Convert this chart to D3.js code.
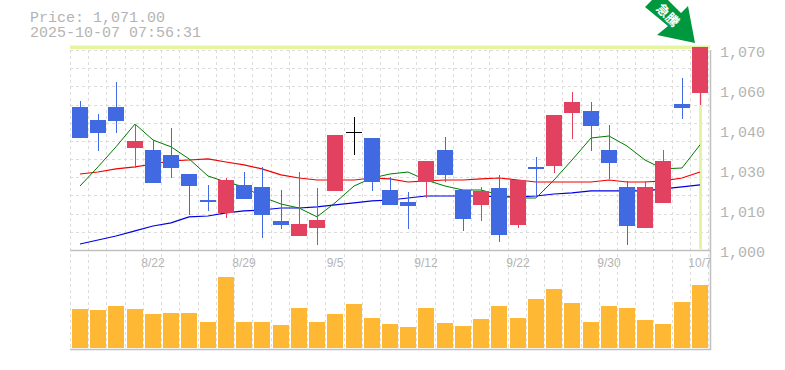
<!DOCTYPE html>
<html>
<head>
<meta charset="utf-8">
<script src="https://cdn.jsdelivr.net/npm/d3@7"></script>
<style>
   html, body { margin: 0; padding: 0; background: #fff; }
   svg { display: block; }
</style>
</head>
<body>
<div id="chart"></div>
<script>
// CHART VALUES
var dates = ['8/18','8/19','8/20','8/21','8/22','8/25','8/26','8/27','8/28','8/29','9/1','9/2','9/3','9/4','9/5','9/8','9/9','9/10','9/11','9/12','9/16','9/17','9/18','9/19','9/22','9/24','9/25','9/26','9/29','9/30','10/1','10/2','10/3','10/6','10/7'];
var open_ = [1050.1,1045.5,1050.1,1035.7,1035.0,1033.3,1026.6,1017.5,1013.0,1022.8,1022.1,1010.2,1004.9,1007.7,1020.7,1041.3,1039.2,1021.0,1016.8,1023.8,1035.0,1021.0,1015.8,1021.7,1008.8,1029.1,1029.4,1048.0,1048.7,1035.0,1022.1,1007.7,1016.5,1051.0,1055.0];
var close_ = [1039.2,1041.0,1045.2,1038.2,1023.5,1028.7,1022.4,1016.8,1024.5,1017.9,1012.3,1008.8,1009.1,1010.5,1040.3,1041.3,1023.8,1015.8,1015.4,1031.2,1026.3,1010.9,1020.7,1005.3,1024.5,1028.4,1047.3,1051.8,1043.4,1030.5,1008.4,1022.1,1031.2,1049.7,1071.0];
var high = [1052.2,1047.6,1058.8,1044.1,1038.5,1042.7,1026.6,1022.8,1025.2,1027.3,1029.1,1021.0,1027.3,1021.7,1040.3,1046.6,1039.2,1025.6,1020.3,1031.2,1039.6,1021.0,1022.1,1026.3,1024.5,1032.6,1047.3,1055.3,1051.8,1043.8,1024.2,1024.2,1035.0,1060.2,1071.0];
var low = [1039.2,1034.7,1041.0,1028.7,1023.5,1025.2,1012.3,1013.7,1011.2,1017.9,1004.2,1007.4,1004.9,1001.8,1020.7,1033.3,1020.7,1015.8,1007.4,1018.2,1023.8,1006.7,1010.2,1002.8,1007.7,1018.2,1027.0,1038.9,1034.7,1024.9,1001.8,1007.7,1016.5,1045.9,1050.8];
var ma5 = [1022.4,1029.1,1036.1,1044.1,1038.5,1036.1,1031.9,1025.9,1023.8,1022.1,1018.6,1016.1,1014.7,1011.6,1016.5,1022.4,1025.2,1026.6,1027.3,1024.5,1022.4,1021.0,1021.0,1019.3,1018.2,1018.2,1024.5,1031.5,1039.2,1039.9,1036.4,1031.5,1028.4,1028.7,1036.8];
var ma25 = [1026.6,1027.3,1028.4,1029.1,1030.1,1031.2,1031.5,1031.9,1030.8,1029.8,1028.4,1026.3,1025.2,1024.5,1024.5,1024.5,1025.2,1024.9,1023.8,1024.2,1024.5,1024.5,1024.9,1025.2,1024.5,1023.8,1023.8,1023.8,1023.8,1024.5,1023.8,1023.8,1024.2,1025.2,1027.3];
var ma75 = [1002.1,1003.5,1004.9,1006.7,1008.4,1009.5,1011.6,1011.9,1013.0,1013.7,1014.0,1014.7,1014.7,1015.1,1015.8,1016.5,1017.2,1017.5,1018.2,1018.9,1018.9,1018.9,1018.9,1018.6,1018.6,1018.9,1019.6,1020.0,1020.7,1020.7,1020.7,1020.7,1021.4,1022.1,1022.8];
var volume = [39,38,42,39,34,35,35,26,71,26,26,23,40,26,34,44,30,24,21,40,25,22,29,42,30,49,59,45,26,42,40,28,24,46,63];
var priceTicks = [1000,1014,1028,1042,1056,1070];
var priceLabels = ['1,000','1,010','1,030','1,040','1,060','1,070'];
var dateTicks = ['8/22','8/29','9/5','9/12','9/22','9/30','10/7'];
var lastPrice = 1071;

// COLOURS
var UP = '#e2425f', DOWN = '#4169e1', FLAT = '#000', GRID = '#dcdcdc', AXIS = '#c0c0c0', TEXT = '#b4b4b4', LIME = '#e4f5a2';

// GENERATE SVG CANVAS
var canvas = d3.select('#chart').append('svg')
   .attr('width', 785)
   .attr('height', 370);

canvas.append('clipPath').attr('id', 'plot')
   .append('rect').attr('x', 70).attr('y', 250).attr('width', 640).attr('height', 30);

// SCALES
var x = d3.scaleBand().domain(dates).range([70, 708.2]);
var y = d3.scaleLinear().domain([1000, 1070]).range([250, 50]);
var v = d3.scaleLinear().domain([0, 98]).range([348, 250]);
var left = d => Math.round(x(d)) + 2;
var mid = d => left(d) + 8;

// GRID
var rows = d3.scaleLinear().domain([0, 11]).range([50, 250]);
canvas.append('g').selectAll('line').data(d3.range(12)).join('line')
   .attr('x1', 70).attr('x2', 710)
   .attr('y1', d => Math.round(rows(d)) + 0.5).attr('y2', d => Math.round(rows(d)) + 0.5)
   .attr('stroke', GRID).attr('stroke-dasharray', '3,3');
canvas.append('g').selectAll('line').data(dates.concat(['end'])).join('line')
   .attr('x1', d => (d == 'end' ? 708 : Math.round(x(d))) + 0.5)
   .attr('x2', d => (d == 'end' ? 708 : Math.round(x(d))) + 0.5)
   .attr('y1', 50).attr('y2', 350)
   .attr('stroke', GRID).attr('stroke-dasharray', '3,3');

// VOLUME BARS
canvas.append('g').selectAll('rect').data(volume).join('rect')
   .attr('x', (d, i) => left(dates[i]))
   .attr('width', 16)
   .attr('y', d => v(d))
   .attr('height', d => v(0) - v(d))
   .attr('fill', '#ffb833');

// AXIS FRAME
canvas.append('path')
   .attr('d', 'M70,250.5H710M70,349.5H710.5V50')
   .attr('fill', 'none').attr('stroke', AXIS).attr('stroke-width', 1.5);

// LAST PRICE MARKERS
canvas.append('line')
   .attr('x1', 70).attr('x2', 710)
   .attr('y1', y(lastPrice)).attr('y2', y(lastPrice))
   .attr('stroke', LIME).attr('stroke-width', 3.5);
canvas.append('line')
   .attr('x1', mid('10/7') + 0.5).attr('x2', mid('10/7') + 0.5)
   .attr('y1', y(lastPrice)).attr('y2', 249)
   .attr('stroke', LIME).attr('stroke-width', 3);

// MOVING AVERAGES
var line = d3.line().x((d, i) => mid(dates[i])).y(d => y(d));
[[ma75, '#0000e6', 1.2], [ma25, '#f00000', 1.2], [ma5, '#007a00', 1]].forEach(s => {
   canvas.append('path')
      .attr('d', line(s[0]))
      .attr('fill', 'none')
      .attr('stroke', s[1])
      .attr('stroke-width', s[2]);
});

// CANDLES
var flat = ['9/8'];
var tone = (d, i) => flat.indexOf(d) >= 0 ? FLAT : close_[i] > open_[i] ? UP : DOWN;
canvas.append('g').attr('shape-rendering', 'crispEdges').selectAll('line').data(dates).join('line')
   .attr('x1', d => mid(d) + 0.5).attr('x2', d => mid(d) + 0.5)
   .attr('y1', (d, i) => y(high[i])).attr('y2', (d, i) => y(low[i]))
   .attr('stroke', tone).attr('stroke-width', 1);
canvas.append('g').attr('shape-rendering', 'crispEdges').selectAll('rect').data(dates).join('rect')
   .attr('x', left)
   .attr('width', 16)
   .attr('y', (d, i) => y(Math.max(open_[i], close_[i])))
   .attr('height', (d, i) => Math.max(1, Math.abs(y(open_[i]) - y(close_[i]))))
   .attr('fill', tone);

// PRICE AND DATE LABELS
canvas.selectAll('.price').data(priceTicks).join('text')
   .attr('class', 'price')
   .attr('x', 720).attr('y', d => y(d) + 7)
   .attr('font-family', 'Liberation Mono').attr('font-size', 15)
   .attr('fill', TEXT)
   .text((d, i) => priceLabels[i]);
canvas.append('g').attr('clip-path', 'url(#plot)')
   .selectAll('text').data(dateTicks).join('text')
   .attr('x', d => mid(d)).attr('y', 267)
   .attr('text-anchor', 'middle')
   .attr('font-family', 'Liberation Sans').attr('font-size', 12)
   .attr('fill', TEXT)
   .text(d => d);

// HEADER
var header = canvas.append('text')
   .attr('font-family', 'Liberation Mono').attr('font-size', 15).attr('fill', TEXT);
header.append('tspan').attr('x', 30).attr('y', 22).text('Price: 1,071.00');
header.append('tspan').attr('x', 30).attr('y', 37).text('2025-10-07 07:56:31');

// ARROW
canvas.append('path')
   .attr('d', 'M668,0L681,13L688,6L695,43L657,35L668,26L645,7L652,0Z')
   .attr('fill', '#00983f');
canvas.append('text')
   .attr('transform', 'translate(667,16) rotate(45)')
   .attr('font-family', 'Noto Sans CJK JP').attr('font-size', 13).attr('font-weight', 700)
   .attr('fill', '#fff').attr('text-anchor', 'middle').attr('dominant-baseline', 'middle')
   .text('急騰');
</script>
</body>
</html>
